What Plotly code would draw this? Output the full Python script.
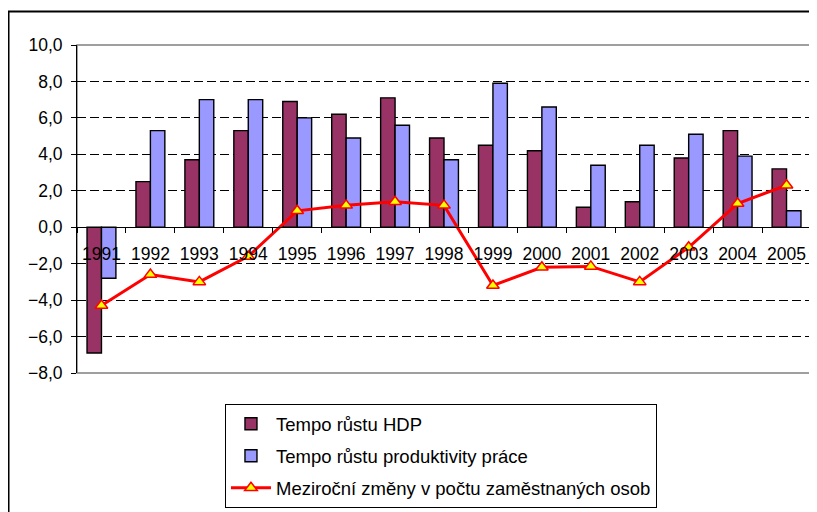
import plotly.graph_objects as go

years = [str(y) for y in range(1991, 2006)]
hdp = [-6.9, 2.5, 3.7, 5.3, 6.9, 6.2, 7.1, 4.9, 4.5, 4.2, 1.1, 1.4, 3.8, 5.3, 3.2]
produktivita = [-2.8, 5.3, 7.0, 7.0, 6.0, 4.9, 5.6, 3.7, 7.9, 6.6, 3.4, 4.5, 5.1, 3.9, 0.9]
zamestnanost = [-4.3, -2.6, -3.0, -1.6, 0.9, 1.2, 1.4, 1.2, -3.2, -2.2, -2.15, -3.0, -1.1, 1.3, 2.3]

FONT = "Liberation Sans, Arial, sans-serif"

fig = go.Figure()
fig.add_trace(go.Bar(x=years, y=hdp, name="Tempo růstu HDP",
                     marker=dict(color="#993366", line=dict(color="black", width=1.4)),
                     legendgroup="a"))
fig.add_trace(go.Bar(x=years, y=produktivita, name="Tempo růstu produktivity práce",
                     marker=dict(color="#9999FF", line=dict(color="black", width=1.4)),
                     legendgroup="b"))
fig.add_trace(go.Scatter(x=years, y=zamestnanost, mode="lines+markers",
                         name="Meziroční změny v počtu zaměstnaných osob",
                         line=dict(color="#FF0000", width=3),
                         marker=dict(symbol="triangle-up", size=11, color="#FFFF00",
                                     line=dict(color="#FF0000", width=1.5)),
                         legendgroup="c"))

# plot area border (grey) and outer frame
fig.add_shape(type="rect", xref="paper", yref="paper", x0=0, x1=1, y0=0, y1=1,
              line=dict(color="#808080", width=1.5), layer="below")
fig.add_shape(type="rect", xref="paper", yref="paper", x0=-0.0933, x1=1.02,
              y0=-0.45, y1=1.102, line=dict(color="black", width=2))

# page body has an 8px margin, so the figure is a bit smaller than the window
fig.update_layout(
    width=809, height=504,
    margin=dict(l=69, r=6, t=37, b=139, autoexpand=False),
    paper_bgcolor="white", plot_bgcolor="white",
    font=dict(family=FONT, size=17.5, color="black"),
    separators=", ",
    barmode="group", bargap=0.41, bargroupgap=0,
    legend=dict(x=0.2016, y=-0.095, xanchor="left", yanchor="top",
                bordercolor="black", borderwidth=1, traceorder="grouped",
                tracegroupgap=5, font=dict(size=18.5), itemwidth=40),
    showlegend=True,
)
fig.update_yaxes(range=[-8, 10], dtick=2, tickformat=".1f",
                 showline=True, linecolor="black", linewidth=1,
                 ticks="outside", ticklen=5, tickcolor="black",
                 ticklabelstandoff=5,
                 showgrid=True, gridcolor="black", griddash="9px,4px", gridwidth=1,
                 zeroline=False)
fig.update_xaxes(type="category", range=[-0.5, 14.5],
                 anchor="free", position=8 / 18,
                 showline=True, linecolor="black", linewidth=1,
                 ticks="outside", ticklen=5, tickcolor="black",
                 ticklabelstandoff=11,
                 tickson="boundaries", showgrid=False, zeroline=False)

fig.write_html("out.html")
